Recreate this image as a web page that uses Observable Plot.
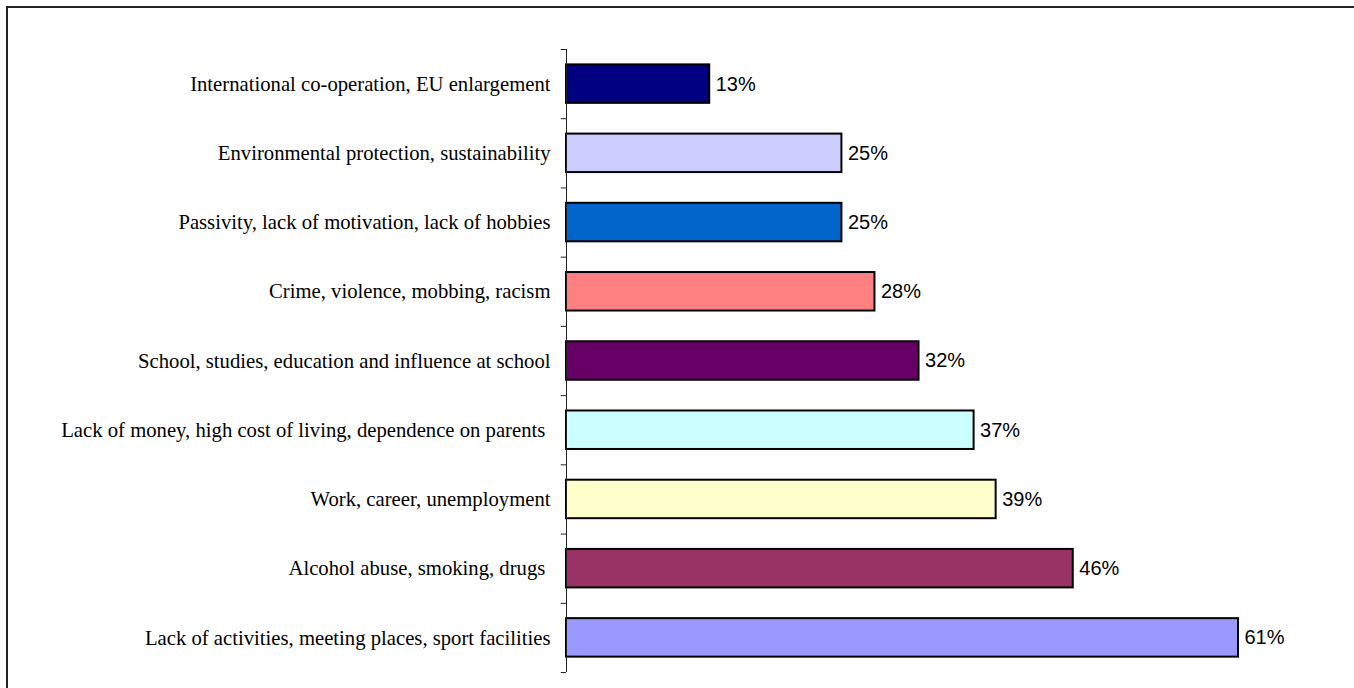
<!DOCTYPE html>
<html><head><meta charset="utf-8">
<script src="https://cdn.jsdelivr.net/npm/d3@7"></script>
<script src="https://cdn.jsdelivr.net/npm/@observablehq/plot@0.6"></script>
<style>
body{margin:0;background:#fff;overflow:hidden}
#wrap{position:relative;width:1354px;height:688px}
#frame{position:absolute;left:6px;top:6px;width:2000px;height:2000px;border-top:2px solid #222;border-left:2px solid #222}
#chart{position:absolute;left:0;top:0}
</style></head><body>
<div id="wrap"><div id="frame"></div><div id="chart"></div></div>
<script>
const categories = [
  "International co-operation, EU enlargement",
  "Environmental protection, sustainability",
  "Passivity, lack of motivation, lack of hobbies",
  "Crime, violence, mobbing, racism",
  "School, studies, education and influence at school",
  "Lack of money, high cost of living, dependence on parents ",
  "Work, career, unemployment",
  "Alcohol abuse, smoking, drugs ",
  "Lack of activities, meeting places, sport facilities"
];
const values = [13, 25, 25, 28, 32, 37, 39, 46, 61];
const colors = ["#000080","#CCCCFF","#0066CC","#FF8080","#660066","#CCFFFF","#FFFFCC","#993366","#9999FF"];
const data = categories.map((c,i)=>({cat:c, value:values[i], color:colors[i]}));

const mTop = 49, mBottom = 16;
const step = (688 - mTop - mBottom) / categories.length;
const last = categories[categories.length-1];

const chart = Plot.plot({
  width: 1354, height: 688,
  marginLeft: 566, marginRight: 0, marginTop: mTop, marginBottom: mBottom,
  style: {background: "transparent", overflow: "visible"},
  x: {domain: [0, 61], range: [566, 1238], axis: null},
  y: {domain: categories, paddingInner: 0.444, paddingOuter: 0.222, align: 0.5, round: false, axis: null},
  marks: [
    Plot.barX(data, {y: "cat", x: "value", fill: "color", stroke: "#000", strokeWidth: 2}),
    Plot.text(data, {y: "cat", x: "value", text: d => d.value + "%", textAnchor: "start", dx: 6,
      fontFamily: "Liberation Sans, Arial, sans-serif", fontSize: 20, fill: "#000"}),
    Plot.text(data, {y: "cat", x: 0, text: "cat", textAnchor: "end", dx: -16,
      fontFamily: "Liberation Serif, Times New Roman, serif", fontSize: 20.7, fill: "#000"}),
    Plot.ruleX([0], {stroke: "#222", strokeWidth: 1}),
    Plot.ruleY(categories, {y: d => d, x1: -0.48, x2: 0, dy: -step/2, stroke: "#222", strokeWidth: 1}),
    Plot.ruleY([last], {y: d => d, x1: -0.48, x2: 0, dy: step/2, stroke: "#222", strokeWidth: 1})
  ]
});
document.getElementById("chart").appendChild(chart);
</script></body></html>
